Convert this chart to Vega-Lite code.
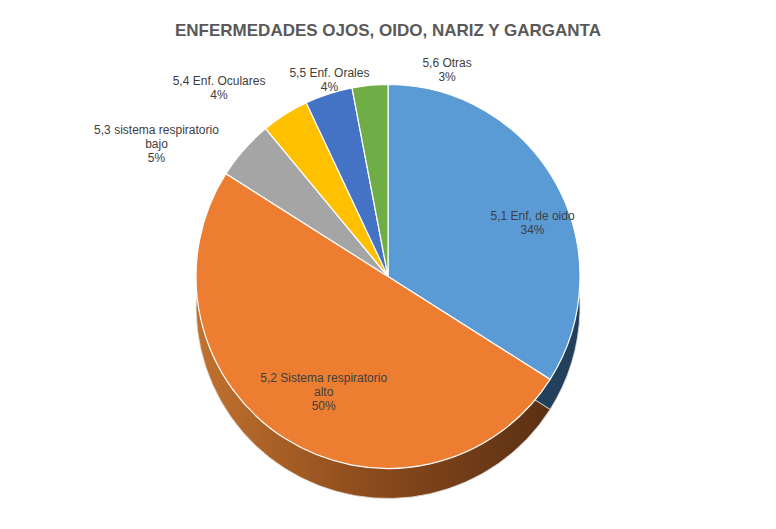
{
  "$schema": "https://vega.github.io/schema/vega-lite/v6.json",
  "width": 776,
  "height": 529,
  "autosize": {"type": "fit", "contains": "padding"},
  "padding": {"top": 22, "left": 10, "right": 10, "bottom": 10},
  "background": "white",
  "config": {"view": {"stroke": null}},
  "title": {
    "text": "ENFERMEDADES OJOS, OIDO, NARIZ Y GARGANTA",
    "font": "Liberation Sans Narrow, Liberation Sans, sans-serif",
    "fontSize": 17,
    "fontWeight": "bold",
    "color": "#595959",
    "anchor": "middle",
    "offset": 10
  },
  "data": {
    "values": [
      {"cat": "5,1 Enf, de oido", "label": "5,1 Enf, de oido\n34%", "value": 34, "order": 1},
      {"cat": "5,2 Sistema respiratorio alto", "label": "5,2 Sistema respiratorio\nalto\n50%", "value": 50, "order": 2},
      {"cat": "5,3 sistema respiratorio bajo", "label": "5,3 sistema respiratorio\nbajo\n5%", "value": 5, "order": 3},
      {"cat": "5,4 Enf. Oculares", "label": "5,4 Enf. Oculares\n4%", "value": 4, "order": 4},
      {"cat": "5,5 Enf. Orales", "label": "5,5 Enf. Orales\n4%", "value": 4, "order": 5},
      {"cat": "5,6 Otras", "label": "5,6 Otras\n3%", "value": 3, "order": 6}
    ]
  },
  "transform": [
    {"stack": "value", "groupby": [], "sort": [{"field": "order", "order": "ascending"}], "as": ["v0", "v1"]}
  ],
  "layer": [
    {
      "mark": {
        "type": "arc",
        "outerRadius": 192,
        "y": {"expr": "height/2 + 22"},
        "stroke": "#e8e8e8",
        "strokeWidth": 0.8,
        "color": {
          "gradient": "linear",
          "x1": 0, "x2": 1, "y1": 0, "y2": 0,
          "stops": [
            {"offset": 0, "color": "#C2722F"},
            {"offset": 0.5, "color": "#8A4A1C"},
            {"offset": 1, "color": "#5A3013"}
          ]
        }
      },
      "encoding": {
        "theta": {"field": "v0", "type": "quantitative", "scale": {"domain": [0, 100]}},
        "theta2": {"field": "v1"}
      }
    },
    {
      "transform": [{"filter": "datum.order == 1"}],
      "mark": {
        "type": "arc",
        "outerRadius": 192,
        "y": {"expr": "height/2 + 22"},
        "stroke": "#e8e8e8",
        "strokeWidth": 0.8,
        "color": "#223F5C"
      },
      "encoding": {
        "theta": {"field": "v0", "type": "quantitative", "scale": {"domain": [0, 100]}},
        "theta2": {"field": "v1"}
      }
    },
    {
      "mark": {"type": "arc", "outerRadius": 192, "y": {"expr": "height/2 - 8"}, "stroke": "white", "strokeWidth": 1.2},
      "encoding": {
        "theta": {"field": "v0", "type": "quantitative", "scale": {"domain": [0, 100]}},
        "theta2": {"field": "v1"},
        "color": {
          "field": "cat",
          "type": "nominal",
          "scale": {
            "domain": ["5,1 Enf, de oido", "5,2 Sistema respiratorio alto", "5,3 sistema respiratorio bajo", "5,4 Enf. Oculares", "5,5 Enf. Orales", "5,6 Otras"],
            "range": ["#5B9BD5", "#ED7D31", "#A5A5A5", "#FFC000", "#4472C4", "#70AD47"]
          },
          "legend": null
        }
      }
    },
    {
      "mark": {
        "type": "text",
        "y": {"expr": "height/2 - 8"},
        "radius": {"expr": "datum.order == 1 ? 125 : datum.order == 2 ? 120 : 222"},
        "dx": {"expr": "datum.order == 1 ? 35 : datum.order == 3 ? -65 : datum.order == 4 ? -50 : datum.order == 5 ? 10 : datum.order == 6 ? 80 : 0"},
        "dy": {"expr": "datum.order == 4 ? -8 : datum.order == 5 ? 8 : datum.order == 6 ? 8 : 0"},
        "lineBreak": "\n",
        "fontSize": 12,
        "font": "Liberation Sans Narrow, Liberation Sans, sans-serif",
        "color": "#404040",
        "align": "center",
        "baseline": "middle"
      },
      "encoding": {
        "theta": {"field": "value", "type": "quantitative", "stack": true, "scale": {"domain": [0, 100]}},
        "order": {"field": "order", "type": "quantitative"},
        "text": {"field": "label"}
      }
    }
  ]
}
